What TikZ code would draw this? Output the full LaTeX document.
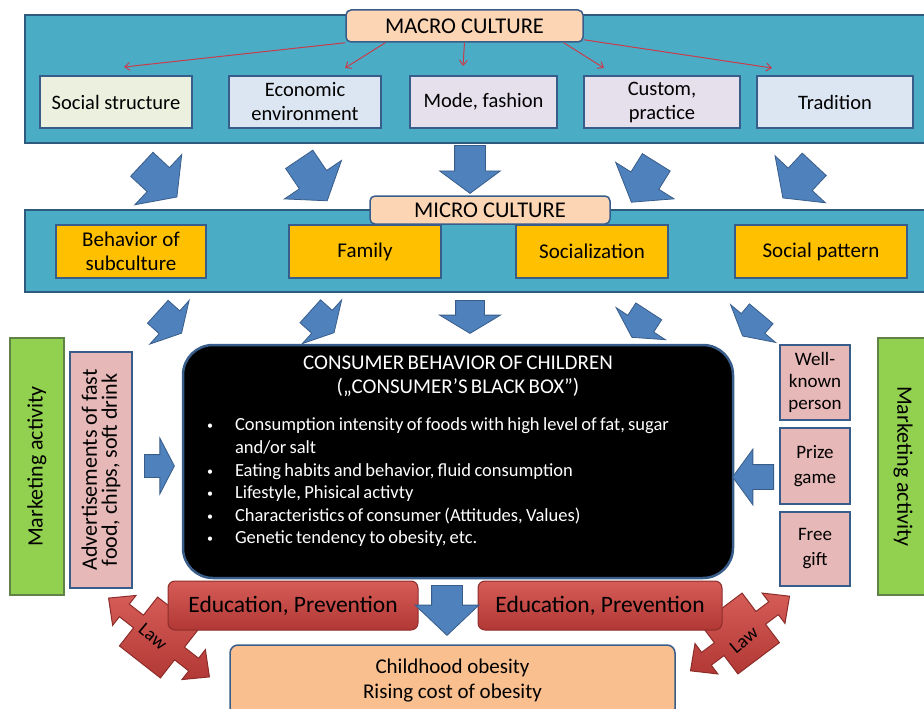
\documentclass[tikz,border=0pt]{standalone}
\usepackage{fontspec}
\setmainfont{Carlito}
\usepackage{tikz}
\usetikzlibrary{arrows.meta,shapes.arrows,positioning,calc}
\definecolor{bandfill}{RGB}{75,172,198}
\definecolor{bandline}{RGB}{45,90,125}
\definecolor{boxline}{RGB}{56,93,138}
\definecolor{peach}{RGB}{252,213,180}
\definecolor{ssfill}{RGB}{235,241,222}
\definecolor{bluefill}{RGB}{220,230,242}
\definecolor{lilafill}{RGB}{229,224,236}
\definecolor{orangebox}{RGB}{255,192,0}
\definecolor{greenbox}{RGB}{146,208,80}
\definecolor{greenline}{RGB}{96,130,70}
\definecolor{pinkbox}{RGB}{230,184,183}
\definecolor{arrowblue}{RGB}{79,129,189}
\definecolor{redtop}{RGB}{214,92,88}
\definecolor{redbot}{RGB}{178,56,53}
\definecolor{redline}{RGB}{140,45,42}
\definecolor{thinred}{RGB}{200,60,75}
\definecolor{obesity}{RGB}{250,191,143}

\newcommand{\fsz}[2]{\fontsize{#1pt}{#2pt}\selectfont}
\newcommand{\bitem}[1]{\par\hangindent=27pt\hangafter=1\noindent\makebox[27pt][l]{\hspace{-1pt}\raisebox{1pt}{\fsz{12}{12}\textbullet}}#1}

\begin{document}
\begin{tikzpicture}[x=1pt,y=-1pt,
    band/.style={draw=bandline, fill=bandfill, line width=2pt, minimum width=902, inner sep=0},
    head/.style={draw=boxline, fill=peach, line width=1.5pt, rounded corners=5pt, inner sep=0, font=\fsz{22.5}{26}},
    macbox/.style={draw=boxline, line width=1.3pt, minimum height=52, inner sep=0, align=center, font=\fsz{20.5}{24}},
    micbox/.style={draw=boxline, fill=orangebox, line width=1.3pt, minimum height=53, inner sep=0, align=center, font=\fsz{21}{24}},
    greenbx/.style={draw=greenline, fill=greenbox, line width=1.3pt, inner sep=0, font=\fsz{22}{26}},
    pinkbx/.style={draw=boxline, fill=pinkbox, line width=1.3pt, inner sep=0, align=center},
    redbx/.style={draw=redline, top color=redtop, bottom color=redbot, line width=1pt, rounded corners=7pt, inner sep=0, font=\fsz{23.5}{26}},
    law/.style={draw=redline, top color=redtop, bottom color=redbot, line width=1pt},
    redarr/.style={draw=thinred, line width=1pt, -{Straight Barb[length=5pt,width=8pt]}},
    blk/.style={single arrow, draw=boxline, fill=arrowblue, line width=0.8pt, inner xsep=0, minimum width=0, anchor=tail}
]
    \useasboundingbox (0,0) rectangle (924,709);

    % Macro culture band
    \node[band, minimum height=128] (band1) at (476,79) {};
    \node[head, minimum width=237, minimum height=32] (macro) at (464.5,26) {MACRO CULTURE};
    \node[macbox, fill=ssfill, minimum width=152] (ss) at (116,102) {Social structure};
    \node[macbox, fill=bluefill, minimum width=152] (ee) at (305,102) {Economic\\environment};
    \node[macbox, fill=lilafill, minimum width=147] (mf) at (483.5,102) {Mode, fashion};
    \node[macbox, fill=lilafill, minimum width=156] (cp) at (662,102) {Custom,\\practice};
    \node[macbox, fill=bluefill, minimum width=156] (tr) at (835,102) {Tradition};

    \coordinate (t1) at (124,67);
    \coordinate (t2) at (345,68);
    \coordinate (t3) at (463,66);
    \coordinate (t4) at (604,68);
    \coordinate (t5) at (772,68);
    \draw[redarr] (macro.south west) -- (t1);
    \draw[redarr] ([xshift=40]macro.south west) -- (t2);
    \draw[redarr] (macro.south) -- (t3);
    \draw[redarr] ([xshift=-20]macro.south east) -- (t4);
    \draw[redarr] ([yshift=3]macro.south east) -- (t5);

    % Arrows macro -> micro
    \node[blk, rotate=-43, minimum height=48, inner ysep=16, single arrow head extend=18, single arrow tip angle=107] (a1) at (141.5,164) {};
    \node[blk, rotate=-56, minimum height=50, inner ysep=16, single arrow head extend=18, single arrow tip angle=107] (a2) at (299,159) {};
    \node[blk, rotate=-90, minimum height=48, inner ysep=15, single arrow head extend=15, single arrow tip angle=107] (a3) at (470,145) {};
    \node[blk, rotate=-122, minimum height=47, inner ysep=16, single arrow head extend=18, single arrow tip angle=107] (a4) at (656.5,162) {};
    \node[blk, rotate=-133, minimum height=46, inner ysep=16, single arrow head extend=18, single arrow tip angle=107] (a5) at (814.5,164) {};

    % Micro culture band
    \node[band, minimum height=82] (band2) at (476,251) {};
    \node[head, minimum width=240, minimum height=28] (micro) at (490,210) {MICRO CULTURE};
    \node[micbox, minimum width=150] (bs) at (131,251.5) {Behavior of\\subculture};
    \node[micbox, minimum width=152] (fam) at (365,251.5) {Family};
    \node[micbox, minimum width=152] (soc) at (592,251.5) {Socialization};
    \node[micbox, minimum width=172] (sp) at (821,251.5) {Social pattern};

    % Arrows micro -> black box
    \node[blk, rotate=-42, minimum height=32, inner ysep=15, single arrow head extend=14, single arrow tip angle=122] (b1) at (157.5,311.5) {};
    \node[blk, rotate=-42, minimum height=32, inner ysep=15, single arrow head extend=14, single arrow tip angle=122] (b2) at (310,311) {};
    \node[blk, rotate=-90, minimum height=33, inner ysep=14, single arrow head extend=16, single arrow tip angle=118] (b3) at (470,300) {};
    \node[blk, rotate=-123, minimum height=31, inner ysep=15, single arrow head extend=14, single arrow tip angle=122] (b4) at (649,311) {};
    \node[blk, rotate=-130, minimum height=29, inner ysep=15, single arrow head extend=14, single arrow tip angle=122] (b5) at (761.5,313.5) {};

    % Consumer's black box
    \node[draw=boxline, fill=black, line width=2.5pt, rounded corners=30pt, minimum width=550, minimum height=233] (blackbox) at (458,461.5) {};
    \node[anchor=north, text width=500, inner sep=0, text=white] (bbtext) at (458,356) {%
        {\centering\fsz{21}{24}CONSUMER BEHAVIOR OF CHILDREN\\(„CONSUMER’S BLACK BOX”)\par}
        \vspace{14.4pt}
        \fsz{18.5}{22.6}%
        \bitem{Consumption intensity of foods with high level of fat, sugar\newline and/or salt}
        \bitem{Eating habits and behavior, fluid consumption}
        \bitem{Lifestyle, Phisical activty}
        \bitem{Characteristics of consumer (Attitudes, Values)}
        \bitem{Genetic tendency to obesity, etc.}\par};

    % Left side: marketing activity
    \node[greenbx, rotate=90, minimum width=257, minimum height=54] (mkleft) at (37,466.5) {Marketing activity};
    \node[pinkbx, rotate=90, minimum width=236, minimum height=62, font=\fsz{22}{20}] (adv) at (101,470) {Advertisements of fast\\food, chips, soft drink};
    \node[blk, minimum height=30, inner ysep=11, single arrow head extend=16.5, single arrow tip angle=125] (c1) at (144,466) {};

    % Right side: marketing activity
    \node[pinkbx, minimum width=70, minimum height=75, font=\fsz{19}{22}] (wkp) at (815,382.5) {Well-\\known\\person};
    \node[pinkbx, minimum width=70, minimum height=76, font=\fsz{19}{25}] (prize) at (815,466) {Prize\\game};
    \node[pinkbx, minimum width=70, minimum height=74, font=\fsz{19}{25}] (gift) at (815,549) {Free\\gift};
    \node[greenbx, rotate=-90, minimum width=257, minimum height=50] (mkright) at (903,466.5) {Marketing activity};
    \node[blk, rotate=180, minimum height=41, inner ysep=12, single arrow head extend=15.5, single arrow tip angle=108] (c2) at (774,477) {};

    % Law
    \draw[law, shift={(159,637.5)}, rotate=-38] (-64,0) -- (-44,-19) -- (-44,-8) -- (-26,-8) -- (-26,-31) -- (26,-31) -- (26,-8) -- (44,-8) -- (44,-19) -- (64,0) -- (44,19) -- (44,8) -- (26,8) -- (26,31) -- (-26,31) -- (-26,8) -- (-44,8) -- (-44,19) -- cycle;
    \draw[law, shift={(740,633.5)}, rotate=37] (-62,0) -- (-42,-19) -- (-42,-8) -- (-26,-8) -- (-26,-31) -- (26,-31) -- (26,-8) -- (42,-8) -- (42,-19) -- (62,0) -- (42,19) -- (42,8) -- (26,8) -- (26,31) -- (-26,31) -- (-26,8) -- (-42,8) -- (-42,19) -- cycle;
    \node[rotate=-40, inner sep=0, font=\fsz{19}{22}] (lawl) at (153,637) {Law};
    \node[rotate=40, inner sep=0, font=\fsz{19}{22}] (lawr) at (744,640) {Law};

    % Education, prevention
    \node[redbx, minimum width=250, minimum height=49] (edl) at (293,605.5) {Education, Prevention};
    \node[redbx, minimum width=244, minimum height=49] (edr) at (600,605.5) {Education, Prevention};
    \node[blk, rotate=-90, minimum height=50, inner ysep=15, single arrow head extend=16.5, single arrow tip angle=93] (d1) at (447,585) {};

    % Outcome
    \node[draw=boxline, fill=obesity, line width=1.5pt, rounded corners=8pt, minimum width=445, minimum height=72, inner sep=0, align=center, font=\fsz{21}{25}] (obes) at (452.5,681) {Childhood obesity\\Rising cost of obesity};
\end{tikzpicture}
\end{document}
